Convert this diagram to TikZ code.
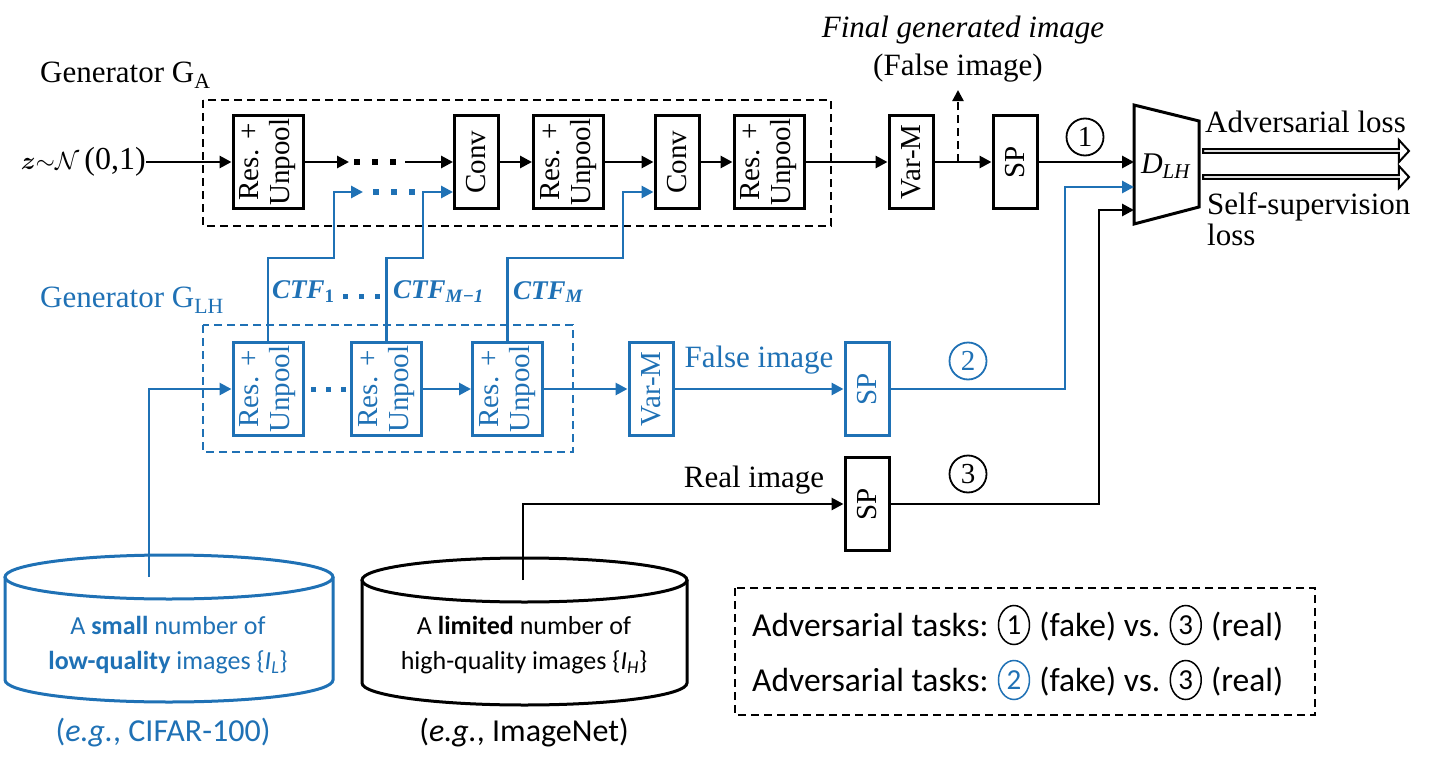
\documentclass[tikz,border=0pt]{standalone}
\usepackage{fontspec}
\setmainfont{Liberation Serif}
\newfontfamily\calib{Carlito}
\usepackage{graphicx}
\usepackage{bm}
\usetikzlibrary{arrows.meta,shapes.geometric,shapes.arrows,positioning,calc}
\definecolor{myblue}{RGB}{31,113,181}
\newcommand{\twoline}[2]{\rotatebox{90}{\begin{tabular}{@{}c@{}}#1\\#2\end{tabular}}}
\begin{document}
\begin{tikzpicture}[x=1pt,y=-1pt,
 blk/.style={draw, line width=3pt, inner sep=0pt, minimum height=93pt, font=\fontsize{29}{31}\selectfont},
 wide/.style={blk, minimum width=70pt},
 narrow/.style={blk, minimum width=44pt},
 arr/.style={line width=2.8pt, -{Triangle[length=12pt,width=12pt]}},
 lbl/.style={font=\fontsize{31}{34}\selectfont, inner sep=0pt},
 ctf/.style={font=\fontsize{27}{30}\selectfont\bfseries\itshape, inner sep=0pt, text=myblue, anchor=west},
 cnum/.style={circle, draw, line width=1.8pt, minimum size=37pt, inner sep=0pt, font=\fontsize{29}{30}\selectfont},
 grp/.style={line width=2.2pt, dash pattern=on 8pt off 5pt},
 dots/.style={line width=6pt, dash pattern=on 6pt off 12pt},
 leg/.style={font=\calib\fontsize{33.5}{36}\selectfont, inner sep=0pt},
 legc/.style={ellipse, draw, line width=1.5pt, minimum width=31pt, minimum height=39pt, inner sep=0pt, font=\calib\fontsize{29}{30}\selectfont},
 cyltext/.style={font=\calib\fontsize{26}{35}\selectfont, align=center, inner sep=0pt},
 outarr/.style={single arrow, draw, line width=2pt, minimum width=22pt, single arrow head extend=5pt, minimum height=206pt, inner sep=0pt, single arrow tip angle=95, anchor=west}
]
\useasboundingbox (0,0) rectangle (1433,768);

% ---------- Generator G_A ----------
\node[lbl, anchor=west] (gA) at (40,75) {Generator G\textsubscript{A}};
\draw[grp] (203,100) rectangle (831,226);
\node[lbl, anchor=east, font=\fontsize{32}{34}\selectfont] (z) at (146,162) {$\bm{z}{\sim}\mathcal{N}$\,(0,1)};
\node[wide] (ra1) at (268,162) {\twoline{Res. +}{Unpool}};
\node[narrow] (conv1) at (476.5,162) {\rotatebox{90}{Conv}};
\node[wide] (ra2) at (568.5,162) {\twoline{Res. +}{Unpool}};
\node[narrow] (conv2) at (677,162) {\rotatebox{90}{Conv}};
\node[wide] (ra3) at (769,162) {\twoline{Res. +}{Unpool}};
\node[narrow] (varm1) at (911,162) {\rotatebox{90}{Var-M}};
\node[narrow] (sp1) at (1015,162) {\rotatebox{90}{SP}};

\coordinate (a1) at (349,162);
\coordinate (dA1) at (354,162);
\coordinate (dA2) at (397,162);
\coordinate (a2) at (405,162);
\draw[arr] (z) -- (ra1);
\draw[arr] (ra1) -- (a1);
\draw[dots] (dA1) -- (dA2);
\draw[arr] (a2) -- (conv1);
\draw[arr] (conv1) -- (ra2);
\draw[arr] (ra2) -- (conv2);
\draw[arr] (conv2) -- (ra3);
\draw[arr] (ra3) -- (varm1);
\draw[arr] (varm1) -- (sp1);

\coordinate (fo) at (958,162);
\coordinate (fu) at (958,90);
\draw[line width=2.4pt, dash pattern=on 8pt off 5pt, -{Triangle[length=11pt,width=11pt]}] (fo) -- (fu);
\node[lbl, font=\fontsize{31}{34}\selectfont\itshape] (fin) at (963,30) {Final generated image};
\node[lbl] (fal) at (958,68) {(False image)};

% ---------- Discriminator ----------
\coordinate (d1) at (1134,105);
\coordinate (d2) at (1199,121);
\coordinate (d3) at (1199,207);
\coordinate (d4) at (1134,224);
\coordinate (dL) at (1134,0);
\draw[line width=3pt, line join=miter] (d1) -- (d2) -- (d3) -- (d4) -- cycle;
\node[lbl, font=\fontsize{30}{30}\selectfont] (dlh) at (1166,166) {\textit{D}\textsubscript{\textit{LH}}};
\draw[arr] (sp1) -- (sp1.east -| dL);
\node[cnum] (n1) at (1085,137) {1};

\node[outarr] (o1) at (1202,151) {};
\node[outarr] (o2) at (1202,177) {};
\node[lbl, anchor=west] (advl) at (1205,122) {Adversarial loss};
\node[lbl, anchor=west] (ssl) at (1207,207) {Self-supervision};
\node[lbl, anchor=west] (ssl2) at (1207,235) {loss};

% ---------- Generator G_LH ----------
\node[lbl, anchor=west, text=myblue] (gLH) at (40,300) {Generator G\textsubscript{LH}};
\draw[grp, myblue] (203,325) rectangle (573,452);
\node[wide, myblue, text=myblue] (lh1) at (268,389) {\twoline{Res. +}{Unpool}};
\node[wide, myblue, text=myblue] (lh2) at (386.5,389) {\twoline{Res. +}{Unpool}};
\node[wide, myblue, text=myblue] (lh3) at (507.5,389) {\twoline{Res. +}{Unpool}};
\node[narrow, myblue, text=myblue] (varm2) at (651,389) {\rotatebox{90}{Var-M}};
\node[narrow, myblue, text=myblue] (sp2) at (867,389) {\rotatebox{90}{SP}};

\coordinate (dB1) at (311,389);
\coordinate (dB2) at (347,389);
\draw[line width=5pt, dash pattern=on 5pt off 10pt, myblue] (dB1) -- (dB2);
\draw[arr, myblue] (lh2) -- (lh3);
\draw[arr, myblue] (lh3) -- (varm2);
\draw[arr, myblue] (varm2) -- (sp2);
\node[lbl, text=myblue] (fimg) at (759,360) {False image};

\coordinate (yC) at (0,258);
\coordinate (k1) at (334,192);
\coordinate (k1e) at (363,192);
\coordinate (k2) at (423,192);
\coordinate (k3) at (623,192);
\coordinate (y192) at (0,192);
\draw[arr, myblue] (lh1.north) -- (lh1.north |- yC) -| (k1) -- (k1e);
\draw[arr, myblue] (lh2.north) -- (lh2.north |- yC) -| (k2) -- (conv1.west |- y192);
\draw[arr, myblue] (lh3.north) -- (lh3.north |- yC) -| (k3) -- (conv2.west |- y192);
\coordinate (dC1) at (373,192);
\coordinate (dC2) at (415,192);
\draw[dots, myblue] (dC1) -- (dC2);

\node[ctf] (ctf1) at (272,292) {CTF\textsubscript{\upshape 1}};
\coordinate (dD1) at (343,296);
\coordinate (dD2) at (385,296);
\draw[line width=5pt, dash pattern=on 5pt off 11pt, myblue] (dD1) -- (dD2);
\node[ctf] (ctf2) at (393,292) {CTF\textsubscript{M−1}};
\node[ctf] (ctf3) at (513,292) {CTF\textsubscript{M}};

\coordinate (b2) at (1065,187);
\draw[arr, myblue] (sp2.east) -| (b2) -- (b2 -| dL);
\node[cnum, myblue, text=myblue] (n2) at (968,361) {2};

% ---------- Real image path ----------
\node[narrow] (sp3) at (867,504) {\rotatebox{90}{SP}};
\node[lbl] (rimg) at (754,480) {Real image};
\coordinate (b3) at (1099,210);
\draw[arr] (sp3.east) -| (b3) -- (b3 -| dL);
\node[cnum] (n3) at (968,474) {3};

% ---------- Cylinders ----------
\draw[myblue, line width=3pt] (5,577) -- (5,680) arc[start angle=180, end angle=0, x radius=164, y radius=22] -- (333,577);
\draw[myblue, line width=3pt] (169,577) ellipse [x radius=164, y radius=22];
\draw[line width=3pt] (362,580) -- (362,683) arc[start angle=180, end angle=0, x radius=162.5, y radius=22] -- (687,580);
\draw[line width=3pt] (524.5,580) ellipse [x radius=162.5, y radius=22];

\coordinate (cyl1top) at (149,577);
\coordinate (cyl2top) at (523,580);
\draw[arr, myblue] (cyl1top) |- (lh1.west);
\draw[arr] (cyl2top) |- (sp3.west);

\node[cyltext, text=myblue] (c1t) at (168,645) {A \textbf{small} number of\\\textbf{low-quality} images \{\textit{I}\textsubscript{\textit{L}}\}};
\node[cyltext] (c2t) at (524,645) {A \textbf{limited} number of\\high-quality images \{\textit{I}\textsubscript{\textit{H}}\}};
\node[leg, font=\calib\fontsize{32}{36}\selectfont, text=myblue] (c1l) at (163,733) {(\textit{e.g.}, CIFAR-100)};
\node[leg, font=\calib\fontsize{32}{36}\selectfont] (c2l) at (524,733) {(\textit{e.g.}, ImageNet)};

% ---------- Legend ----------
\draw[grp] (735,588) rectangle (1315,715);
\node[leg, anchor=west] (la1) at (752,625) {Adversarial tasks:};
\node[legc, anchor=west] (lb1) at ([xshift=9pt]la1.east) {1};
\node[leg, anchor=base west] (lc1) at ([xshift=9pt]lb1.east |- la1.base) {(fake) vs.};
\node[legc, anchor=west] (ld1) at ([xshift=9pt]lc1.east |- lb1.center) {3};
\node[leg, anchor=base west] (le1) at ([xshift=9pt]ld1.east |- la1.base) {(real)};

\node[leg, anchor=west] (la2) at (752,680) {Adversarial tasks:};
\node[legc, anchor=west, myblue, text=myblue] (lb2) at ([xshift=9pt]la2.east) {2};
\node[leg, anchor=base west] (lc2) at ([xshift=9pt]lb2.east |- la2.base) {(fake) vs.};
\node[legc, anchor=west] (ld2) at ([xshift=9pt]lc2.east |- lb2.center) {3};
\node[leg, anchor=base west] (le2) at ([xshift=9pt]ld2.east |- la2.base) {(real)};
\end{tikzpicture}
\end{document}
